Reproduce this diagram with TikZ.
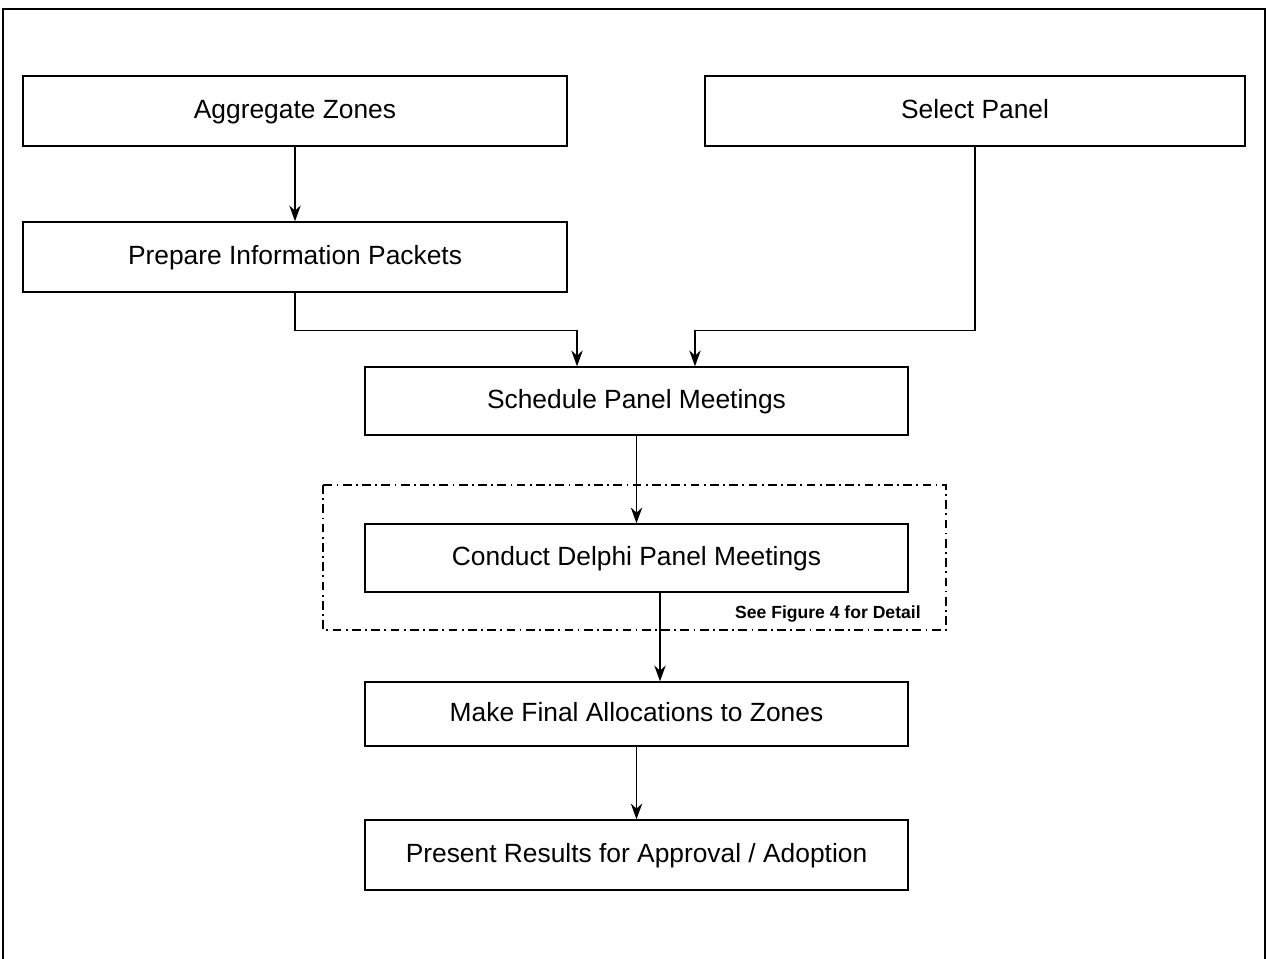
\documentclass[tikz,border=0pt]{standalone}
\usepackage{fontspec}
\setmainfont{Liberation Sans}
\usetikzlibrary{arrows.meta}

\begin{document}
\begin{tikzpicture}[x=0.02cm, y=-0.02cm,
  box/.style={draw, line width=0.8pt, minimum width=10.86cm, minimum height=1.4cm,
    inner sep=0pt, text height=11pt, text depth=3pt, font=\fontsize{15}{18}\selectfont},
  flow/.style={draw, line width=0.7pt, -{Stealth[length=9pt,width=6.5pt]}},
  note/.style={font=\fontsize{10}{12}\selectfont\bfseries, inner sep=0pt, anchor=south east}]
  \useasboundingbox (0,0) rectangle (1268,959);
  % frame
  \draw[line width=1.3pt] (3,959) -- (3,9) -- (1265,9) -- (1265,959);

  \node[box, minimum width=10.88cm] (agg) at (295,111) {Aggregate Zones};
  \node[box, minimum width=10.8cm] (sel) at (975,111) {Select Panel};
  \node[box, minimum width=10.88cm] (prep) at (295,257) {Prepare Information Packets};
  \node[box, minimum height=1.36cm] (sched) at (636.5,401) {Schedule Panel Meetings};
  \node[box, minimum height=1.36cm] (delphi) at (636.5,558) {Conduct Delphi Panel Meetings};
  \node[box, minimum height=1.28cm] (alloc) at (636.5,714) {Make Final Allocations to Zones};
  \node[box] (present) at (636.5,855) {Present Results for Approval / Adoption};

  % detail frame
  \draw[line width=0.7pt, dash pattern=on 5pt off 2.5pt on 1pt off 2.5pt] (323,485) rectangle (946,630);
  \node[note] (detail) at (921,623) {See Figure 4 for Detail};

  \draw[flow] (agg.south) -- (prep.north);
  \draw[flow] (prep.south) -- ++(0,38) -| ([xshift=-1.19cm]sched.north);
  \draw[flow] (sel.south) -- ++(0,184) -| ([xshift=1.17cm]sched.north);
  \draw[flow] (sched.south) -- (delphi.north);
  \draw[flow] ([xshift=0.47cm]delphi.south) -- ([xshift=0.47cm]alloc.north);
  \draw[flow] (alloc.south) -- (present.north);
\end{tikzpicture}
\end{document}
